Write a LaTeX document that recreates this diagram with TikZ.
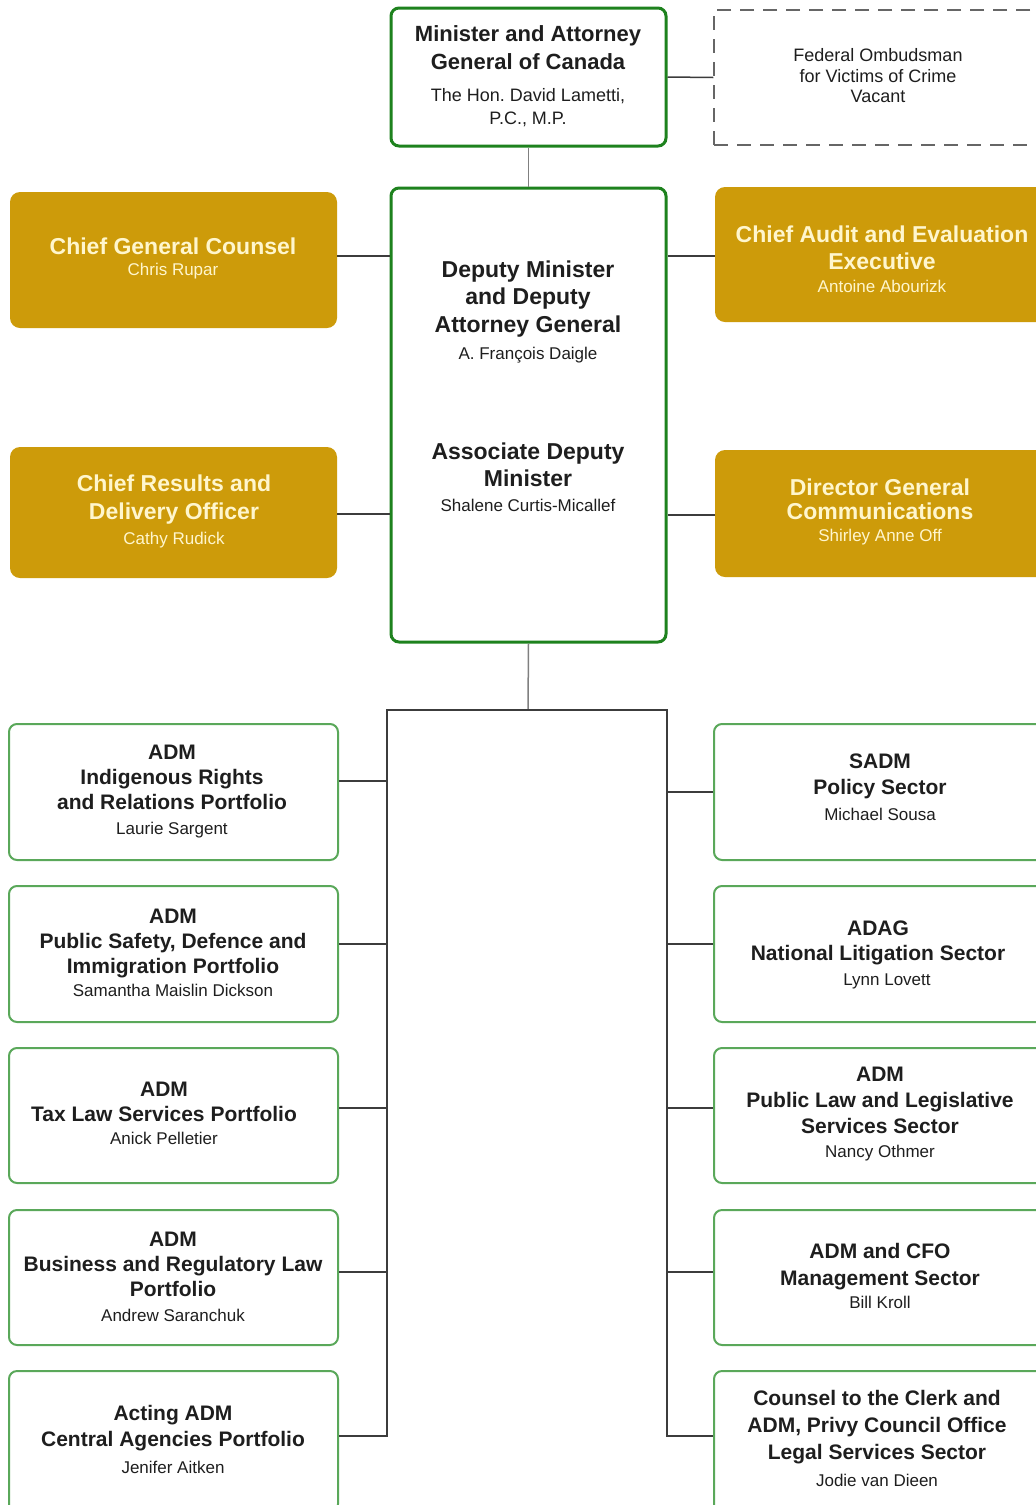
\documentclass[tikz,border=0pt]{standalone}
\usepackage{fontspec}
\setmainfont{Liberation Sans}
\usetikzlibrary{calc}
\definecolor{gold}{RGB}{205,155,10}
\definecolor{cream}{RGB}{255,246,205}
\definecolor{dgreen}{RGB}{30,130,30}
\definecolor{lgreen}{RGB}{90,168,90}
\definecolor{ink}{RGB}{30,30,30}
\definecolor{conn}{RGB}{60,60,60}
\newcommand\ft[2]{\fontsize{#1}{#2}\selectfont}
\newcommand\mkbox[6]{\node[#1, minimum width={#5-#3}, minimum height={#6-#4}] (#2) at ({(#3+#5)/2},{(#4+#6)/2}) {};}
\frenchspacing
\begin{document}
\begin{tikzpicture}[x=1pt,y=-1pt,
 box/.style={rounded corners=8pt, inner sep=0pt},
 topbox/.style={box, draw=dgreen, line width=3pt},
 lowbox/.style={box, draw=lgreen, line width=2pt},
 goldbox/.style={box, fill=gold, rounded corners=10pt},
 dashbox/.style={draw=black!60, dash pattern=on 14pt off 9pt, line width=1.5pt, inner sep=0pt},
 txt/.style={align=center, text=ink, inner sep=0pt},
 gtxt/.style={align=center, text=cream, inner sep=0pt},
 link/.style={draw=conn, line width=1.5pt},
 lowt/.style={txt, font=\ft{21}{25}\bfseries},
]
\useasboundingbox (0,0) rectangle (1036,1505);
\fill[white] (0,0) rectangle (1036,1505);

% top
\mkbox{topbox}{min}{391}{8}{666}{146}
\mkbox{dashbox}{omb}{714}{10}{1046}{145}
\mkbox{topbox}{dm}{391}{188}{666}{642}
\mkbox{goldbox}{cgc}{10}{192}{337}{328}
\mkbox{goldbox}{cae}{715}{187}{1046}{322}
\mkbox{goldbox}{crd}{10}{447}{337}{578}
\mkbox{goldbox}{dgc}{715}{450}{1046}{577}

% lower left
\mkbox{lowbox}{l1}{9}{724}{338}{860}
\mkbox{lowbox}{l2}{9}{886}{338}{1022}
\mkbox{lowbox}{l3}{9}{1048}{338}{1183}
\mkbox{lowbox}{l4}{9}{1210}{338}{1345}
\mkbox{lowbox}{l5}{9}{1371}{338}{1512}
% lower right
\mkbox{lowbox}{r1}{714}{724}{1046}{860}
\mkbox{lowbox}{r2}{714}{886}{1046}{1022}
\mkbox{lowbox}{r3}{714}{1048}{1046}{1183}
\mkbox{lowbox}{r4}{714}{1210}{1046}{1345}
\mkbox{lowbox}{r5}{714}{1371}{1046}{1512}

% texts
\node[txt, font=\ft{22}{28}\bfseries] (mint) at (528,76) {Minister and Attorney\\General of Canada\\[4pt]{\mdseries\ft{18}{23}The Hon. David Lametti,}\\[-5pt]{\mdseries\ft{18}{23}P.C., M.P.}};
\node[txt, font=\ft{18}{20.5}] (ombt) at (878,76) {Federal Ombudsman\\for Victims of Crime\\Vacant};
\node[txt, font=\ft{23}{27.5}\bfseries] (dmt1) at (528,312) {Deputy Minister\\and Deputy\\Attorney General\\{\mdseries\ft{17}{20}A. François Daigle}};
\node[txt, font=\ft{23}{27}\bfseries] (dmt2) at (528,477) {Associate Deputy\\Minister\\[-2pt]{\mdseries\ft{17}{20}Shalene Curtis-Micallef}};

\node[gtxt, font=\ft{23}{27}\bfseries] (cgct) at (173,258) {Chief General Counsel\\[-6pt]{\mdseries\ft{17}{20}Chris Rupar}};
\node[gtxt, font=\ft{23}{27}\bfseries] (caet) at (882,259) {Chief Audit and Evaluation\\Executive\\[-4pt]{\mdseries\ft{17}{20}Antoine Abourizk}};
\node[gtxt, font=\ft{23}{28}\bfseries] (crdt) at (174,511) {Chief Results and\\Delivery Officer\\[-3pt]{\mdseries\ft{17}{20}Cathy Rudick}};
\node[gtxt, font=\ft{23}{24}\bfseries] (dgct) at (880,512) {Director General\\Communications\\[-2pt]{\mdseries\ft{17}{20}Shirley Anne Off}};

\node[lowt] (l1t) at (172,792) {ADM\\Indigenous Rights\\and Relations Portfolio\\{\mdseries\ft{17}{20}Laurie Sargent}};
\node[lowt] (l2t) at (173,953) {ADM\\Public Safety, Defence and\\Immigration Portfolio\\[-2pt]{\mdseries\ft{17}{20}Samantha Maislin Dickson}};
\node[lowt] (l3t) at (164,1113) {ADM\\Tax Law Services Portfolio\\[-2pt]{\mdseries\ft{17}{20}Anick Pelletier}};
\node[lowt] (l4t) at (173,1277) {ADM\\Business and Regulatory Law\\Portfolio\\{\mdseries\ft{17}{20}Andrew Saranchuk}};
\node[lowt, font=\ft{21}{26}\bfseries] (l5t) at (173,1439) {Acting ADM\\Central Agencies Portfolio\\[1pt]{\mdseries\ft{17}{20}Jenifer Aitken}};

\node[lowt, font=\ft{21}{26}\bfseries] (r1t) at (880,787) {SADM\\Policy Sector\\{\mdseries\ft{17}{20}Michael Sousa}};
\node[lowt] (r2t) at (878,955) {ADAG\\National Litigation Sector\\{\mdseries\ft{17}{20}\hspace*{18pt}Lynn Lovett}};
\node[lowt, font=\ft{21}{26}\bfseries] (r3t) at (880,1114) {ADM\\Public Law and Legislative\\Services Sector\\[-2pt]{\mdseries\ft{17}{20}Nancy Othmer}};
\node[lowt, font=\ft{21}{26.5}\bfseries] (r4t) at (880,1276) {ADM and CFO\\Management Sector\\[-3pt]{\mdseries\ft{17}{20}Bill Kroll}};
\node[lowt, font=\ft{21}{27}\bfseries] (r5t) at (877,1438) {Counsel to the Clerk and\\ADM, Privy Council Office\\Legal Services Sector\\{\mdseries\ft{17}{20}Jodie van Dieen}};

% connectors
\draw[link] (min.east) -- (omb.west);
\draw[link, draw=black!50] (min.south) -- (dm.north);
\draw[link] ([yshift=4pt]cgc.east) -- ([yshift=4pt]cgc.east -| dm.west);
\draw[link] ([yshift=-1.5pt]cae.west) -- ([yshift=-1.5pt]cae.west -| dm.east);
\draw[link] ([yshift=-1.5pt]crd.east) -- ([yshift=-1.5pt]crd.east -| dm.west);
\draw[link] ([yshift=-1.5pt]dgc.west) -- ([yshift=-1.5pt]dgc.west -| dm.east);

\coordinate (bus) at (528,710);
\coordinate (busL) at (387,710);
\coordinate (busR) at (667,710);
\draw[link, draw=black!50] (dm.south) -- (bus);
\draw[link] ([yshift=5.5pt]l5.east) -| (busL) -- (busR) |- ([yshift=5.5pt]r5.west);
\draw[link] ([yshift=11pt]l1.east) -- ([yshift=11pt]l1.east -| busL);
\draw[link] ([yshift=10pt]l2.east) -- ([yshift=10pt]l2.east -| busL);
\draw[link] ([yshift=7.5pt]l3.east) -- ([yshift=7.5pt]l3.east -| busL);
\draw[link] ([yshift=5.5pt]l4.east) -- ([yshift=5.5pt]l4.east -| busL);
\draw[link] (r1.west) -- (r1.west -| busR);
\draw[link] ([yshift=10pt]r2.west) -- ([yshift=10pt]r2.west -| busR);
\draw[link] ([yshift=7.5pt]r3.west) -- ([yshift=7.5pt]r3.west -| busR);
\draw[link] ([yshift=5.5pt]r4.west) -- ([yshift=5.5pt]r4.west -| busR);
\end{tikzpicture}
\end{document}
